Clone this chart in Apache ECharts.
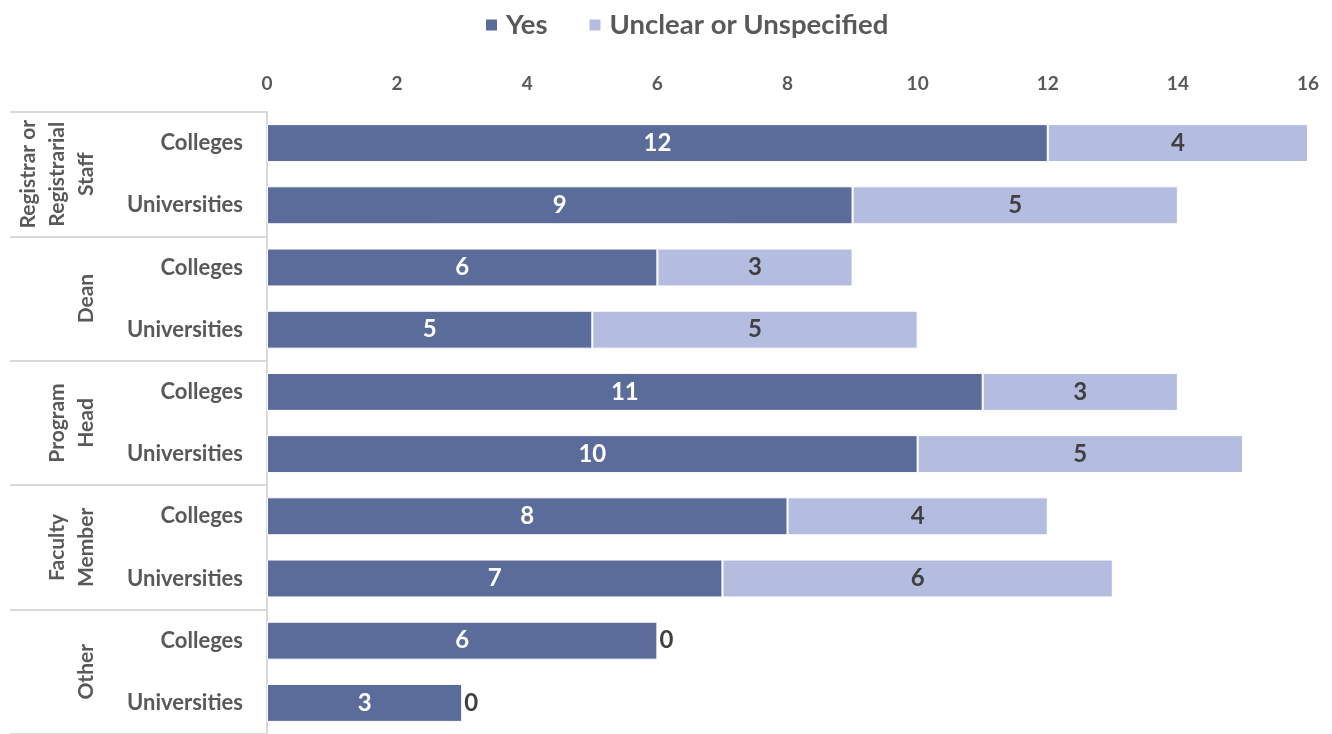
<!DOCTYPE html>
<html><head><meta charset="utf-8">
<script src="https://cdn.jsdelivr.net/npm/echarts@6/dist/echarts.min.js"></script>
<style>html,body{margin:0;padding:0;background:#fff}#c{width:1332px;height:734px}</style>
</head><body><div id="c"></div>
<script>
const groups = ['Registrar or\nRegistrarial\nStaff', 'Dean', 'Program\nHead', 'Faculty\nMember', 'Other'];
const subs = ['Colleges', 'Universities'];
const yesValues = [12, 9, 6, 5, 11, 10, 8, 7, 6, 3];
const unclearValues = [4, 5, 3, 5, 3, 5, 4, 6, 0, 0];
const seriesNames = ['Yes', 'Unclear or Unspecified'];
const xTicks = {min: 0, max: 16, interval: 2};

const categories = [];
groups.forEach((g, gi) => subs.forEach(s => categories.push(gi + '|' + s)));

const FONT = 'Lato';
const GRAY = '#595959';
const chart = echarts.init(document.getElementById('c'), null, {renderer: 'canvas'});
chart.setOption({
  animation: false,
  textStyle: {fontFamily: FONT},
  legend: {
    top: 6, left: 479,
    itemWidth: 13, itemHeight: 13, itemGap: 40,
    icon: 'rect',
    textStyle: {fontSize: 27.5, fontWeight: 'bold', color: GRAY, fontFamily: FONT, padding: [0, 0, 0, 3]},
    data: seriesNames
  },
  grid: {left: 267, right: 24, top: 112, height: 625, containLabel: false},
  xAxis: {
    type: 'value', position: 'top',
    min: xTicks.min, max: xTicks.max, interval: xTicks.interval,
    axisLine: {show: false}, axisTick: {show: false}, splitLine: {show: false},
    axisLabel: {fontSize: 19, fontWeight: 'bold', color: GRAY, margin: 19, fontFamily: FONT}
  },
  yAxis: [
    {
      type: 'category', inverse: true, data: categories,
      axisLine: {show: true, lineStyle: {color: '#d9d9d9', width: 2}},
      axisTick: {show: false},
      axisLabel: {
        interval: 0, fontSize: 22, fontWeight: 'bold', color: GRAY, margin: 24, fontFamily: FONT,
        formatter: v => v.split('|')[1]
      }
    },
    {
      type: 'category', inverse: true, position: 'left', data: groups,
      axisLine: {show: false},
      axisTick: {show: true, interval: 0, length: 257, lineStyle: {color: '#d9d9d9', width: 2}},
      axisLabel: {
        interval: 0, rotate: 90, fontSize: 21, fontWeight: 'bold', color: GRAY, margin: 166,
        lineHeight: 29, fontFamily: FONT
      }
    }
  ],
  series: [
    {
      name: seriesNames[0], type: 'bar', stack: 'a', yAxisIndex: 0,
      barCategoryGap: '39%',
      itemStyle: {color: '#5B6B9A', borderColor: '#fff', borderWidth: 1},
      label: {show: true, position: 'inside', color: '#fff', fontSize: 24, fontWeight: 'bold', fontFamily: FONT},
      data: yesValues
    },
    {
      name: seriesNames[1], type: 'bar', stack: 'a', yAxisIndex: 0,
      barCategoryGap: '39%',
      itemStyle: {color: '#B4BDE0', borderColor: '#fff', borderWidth: 1},
      label: {show: true, position: 'inside', color: '#404040', fontSize: 24, fontWeight: 'bold', fontFamily: FONT},
      data: unclearValues.map(v => v === 0 ? {value: v, itemStyle: {borderWidth: 0}, label: {position: 'right', distance: 2}} : v)
    }
  ]
});
</script>
</body></html>
